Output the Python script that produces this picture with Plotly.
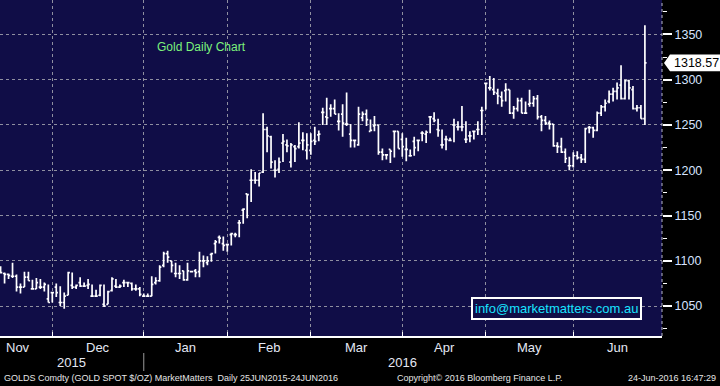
import plotly.graph_objects as go

# ---------------- data ----------------
opens = [1088, 1086, 1085, 1083, 1083, 1071, 1071, 1082, 1069, 1069, 1071, 1071, 1058, 1065, 1071,
         1054, 1054, 1062, 1073, 1071, 1076, 1072, 1073, 1061, 1061, 1062, 1052, 1052, 1067, 1072,
         1071, 1076, 1076, 1075, 1069, 1069, 1061, 1061, 1061, 1076, 1078, 1095, 1108,
         1100, 1086, 1086, 1089, 1079, 1088, 1089, 1088, 1100, 1098, 1107, 1119, 1126, 1119, 1118,
         1129, 1129, 1142, 1156, 1174, 1189, 1189, 1189, 1198, 1245, 1237, 1200, 1201, 1230, 1228,
         1209, 1226, 1226, 1233, 1222, 1222, 1233, 1239, 1264, 1259, 1268,
         1268, 1254, 1262, 1251, 1240, 1233, 1228, 1258, 1262, 1243, 1249, 1250, 1220, 1217, 1223,
         1243, 1243, 1234, 1223, 1216, 1232, 1233, 1241, 1240, 1259, 1257, 1245, 1228, 1234, 1233,
         1250, 1248, 1248, 1234, 1238, 1243, 1245, 1266, 1296, 1291, 1289, 1285,
         1281, 1288, 1289, 1263, 1268, 1277, 1263, 1273, 1274, 1279, 1259, 1255, 1252, 1251, 1227,
         1226, 1220, 1205, 1205, 1216, 1214, 1212, 1247, 1247, 1244, 1263, 1270, 1276, 1284, 1287,
         1294, 1279, 1299, 1289, 1268, 1269, 1257]
highs = [1094, 1087, 1086, 1098, 1085, 1075, 1088, 1088, 1079, 1081, 1080, 1076, 1074, 1065, 1075,
         1072, 1065, 1088, 1087, 1074, 1082, 1076, 1080, 1074, 1068, 1074, 1074, 1067, 1082, 1080,
         1074, 1079, 1077, 1076, 1074, 1071, 1064, 1064, 1083, 1082, 1095, 1110, 1111,
         1100, 1098, 1095, 1089, 1098, 1089, 1091, 1110, 1106, 1105, 1109, 1123, 1128, 1127, 1119,
         1131, 1131, 1145, 1158, 1174, 1201, 1198, 1197, 1263, 1248, 1238, 1211, 1214, 1240, 1234,
         1230, 1228, 1253, 1242, 1241, 1241, 1248, 1244, 1269, 1280, 1273,
         1278, 1263, 1273, 1286, 1251, 1233, 1270, 1265, 1267, 1256, 1260, 1250, 1224, 1217, 1223,
         1243, 1243, 1241, 1236, 1223, 1237, 1234, 1243, 1244, 1260, 1264, 1257, 1245, 1238, 1236,
         1257, 1254, 1271, 1254, 1243, 1243, 1254, 1270, 1297, 1304, 1302, 1290,
         1287, 1296, 1289, 1271, 1280, 1280, 1276, 1289, 1282, 1283, 1261, 1260, 1255, 1251, 1231,
         1236, 1224, 1215, 1220, 1221, 1218, 1247, 1249, 1248, 1265, 1272, 1278, 1288, 1291, 1297,
         1316, 1300, 1300, 1293, 1272, 1272, 1360]
lows = [1086, 1075, 1080, 1081, 1066, 1064, 1071, 1078, 1068, 1069, 1069, 1066, 1054, 1054, 1060,
        1050, 1047, 1062, 1069, 1069, 1071, 1071, 1069, 1060, 1060, 1061, 1049, 1052, 1066, 1070,
        1070, 1071, 1071, 1067, 1067, 1061, 1060, 1060, 1061, 1074, 1077, 1093, 1098,
        1087, 1082, 1080, 1078, 1078, 1087, 1082, 1082, 1093, 1095, 1099, 1108, 1119, 1111, 1110,
        1117, 1126, 1126, 1141, 1147, 1165, 1185, 1182, 1197, 1220, 1202, 1192, 1197, 1209, 1220,
        1203, 1209, 1224, 1222, 1212, 1217, 1228, 1232, 1250, 1250, 1259,
        1262, 1244, 1237, 1249, 1225, 1225, 1227, 1254, 1249, 1243, 1243, 1217, 1211, 1212, 1208,
        1214, 1224, 1215, 1210, 1215, 1216, 1221, 1232, 1230, 1241, 1253, 1237, 1224, 1222, 1232,
        1231, 1244, 1243, 1230, 1231, 1234, 1239, 1239, 1267, 1288, 1283, 1273,
        1270, 1276, 1262, 1257, 1265, 1263, 1263, 1270, 1270, 1256, 1243, 1250, 1245, 1226, 1219,
        1219, 1208, 1200, 1203, 1212, 1208, 1208, 1241, 1236, 1243, 1260, 1265, 1274, 1276, 1278,
        1278, 1278, 1278, 1267, 1265, 1257, 1250]
closes = [1087, 1085, 1084, 1083, 1071, 1071, 1082, 1078, 1069, 1076, 1071, 1074, 1054, 1065, 1065,
          1054, 1061, 1087, 1071, 1073, 1072, 1072, 1074, 1061, 1061, 1073, 1050, 1066, 1080, 1071,
          1072, 1076, 1076, 1069, 1069, 1063, 1061, 1061, 1074, 1078, 1093, 1108, 1104,
          1095, 1086, 1086, 1079, 1089, 1088, 1087, 1100, 1100, 1100, 1108, 1121, 1125, 1117, 1118,
          1130, 1129, 1142, 1157, 1173, 1189, 1189, 1197, 1245, 1238, 1209, 1200, 1209, 1232, 1227,
          1228, 1224, 1230, 1233, 1228, 1232, 1232, 1240, 1264, 1258, 1268,
          1262, 1254, 1252, 1251, 1233, 1233, 1262, 1262, 1256, 1244, 1250, 1220, 1217, 1217, 1221,
          1243, 1224, 1226, 1223, 1216, 1225, 1233, 1241, 1242, 1259, 1255, 1244, 1228, 1234, 1233,
          1250, 1248, 1248, 1234, 1238, 1243, 1245, 1266, 1296, 1291, 1286, 1282,
          1277, 1289, 1263, 1268, 1277, 1263, 1263, 1274, 1279, 1259, 1255, 1252, 1251, 1227, 1226,
          1220, 1213, 1205, 1216, 1214, 1212, 1246, 1247, 1244, 1263, 1270, 1274, 1284, 1287, 1291,
          1279, 1299, 1291, 1268, 1269, 1257, 1318.57]

month_names = ["Nov", "Dec", "Jan", "Feb", "Mar", "Apr", "May", "Jun"]
month_starts = [13, 36, 57, 78, 101, 122, 144]   # bar index of first trading day of Dec..Jun
year_names = ["2015", "2016"]
y_major = [1050, 1100, 1150, 1200, 1250, 1300, 1350]
last_price = 1318.57

title_text = "Gold Daily Chart"
info_text = "info@marketmatters.com.au"
footer_left = "GOLDS Comdty (GOLD SPOT $/OZ) MarketMatters  Daily 25JUN2015-24JUN2016"
footer_mid = "Copyright\u00a9 2016 Bloomberg Finance L.P."
footer_right = "24-Jun-2016 16:47:29"

# ---------------- layout geometry ----------------
W, H = 720, 386
PL, PR, PT, PB = 0, 662, 0, 336        # plot area in pixels
X_RANGE = [-0.15, 166.3]
Y_RANGE = [1017, 1388]
NAVY = "#100d47"
GRID = "#8f8fa0"
LABEL = "#d6e4ff"
FONT = "Liberation Sans, Arial, sans-serif"


def px_x(px):
    return (px - PL) / (PR - PL)


def px_y(py):
    return (PB - py) / (PB - PT)


n = len(closes)
xs = list(range(n))

fig = go.Figure()
fig.add_trace(go.Ohlc(
    x=xs, open=opens, high=highs, low=lows, close=closes,
    increasing=dict(line=dict(color="white", width=1.7)),
    decreasing=dict(line=dict(color="white", width=1.7)),
    tickwidth=0.42, hoverinfo="skip", showlegend=False,
))

# month label positions: middle of each month's span on the axis
bounds = [X_RANGE[0]] + month_starts + [X_RANGE[1]]
month_pos = [(bounds[k] + bounds[k + 1]) / 2 for k in range(len(month_names))]
month_pos[0] -= 2
year_bounds = [X_RANGE[0], month_starts[1], X_RANGE[1]]
year_pos = [(year_bounds[k] + year_bounds[k + 1]) / 2 for k in range(2)]

annotations = []
for name, pos in zip(month_names, month_pos):
    annotations.append(dict(x=pos, y=px_y(347), xref="x", yref="paper", text=name,
                            showarrow=False, xanchor="center", yanchor="middle",
                            font=dict(family=FONT, size=13, color="#e4e8f4")))
for name, pos in zip(year_names, year_pos):
    annotations.append(dict(x=pos, y=px_y(362), xref="x", yref="paper", text=name,
                            showarrow=False, xanchor="center", yanchor="middle",
                            font=dict(family=FONT, size=13, color="#e4e8f4")))

annotations += [
    dict(x=px_x(155), y=px_y(47), xref="paper", yref="paper", text=title_text,
         showarrow=False, xanchor="left", yanchor="middle",
         font=dict(family=FONT, size=12, color="#7cf27c")),
    dict(x=px_x(556), y=px_y(308.5), xref="paper", yref="paper", text=info_text,
         showarrow=False, xanchor="center", yanchor="middle",
         bgcolor=NAVY, bordercolor="white", borderwidth=2, borderpad=2,
         font=dict(family=FONT, size=13, color="#19e3ff")),
    dict(x=px_x(2), y=px_y(378), xref="paper", yref="paper", text=footer_left,
         showarrow=False, xanchor="left", yanchor="middle",
         font=dict(family=FONT, size=9, color="#e6e6e6")),
    dict(x=px_x(395), y=px_y(378), xref="paper", yref="paper", text=footer_mid,
         showarrow=False, xanchor="left", yanchor="middle",
         font=dict(family=FONT, size=9, color="#e6e6e6")),
    dict(x=px_x(718), y=px_y(378), xref="paper", yref="paper", text=footer_right,
         showarrow=False, xanchor="right", yanchor="middle",
         font=dict(family=FONT, size=9, color="#e6e6e6")),
]

# last price tag on the right axis
yc = (last_price - Y_RANGE[0]) / (Y_RANGE[1] - Y_RANGE[0])
hh = 8.3 / (PB - PT)
tag_path = (f"M {px_x(664)} {yc} L {px_x(670)} {yc + hh} L {px_x(720)} {yc + hh} "
            f"L {px_x(720)} {yc - hh} L {px_x(670)} {yc - hh} Z")
annotations.append(dict(x=px_x(672), y=yc, xref="paper", yref="paper",
                        text=f"{last_price:.2f}", showarrow=False,
                        xanchor="left", yanchor="middle",
                        font=dict(family=FONT, size=12.5, color="black")))

shapes = [
    dict(type="path", path=tag_path, xref="paper", yref="paper",
         fillcolor="white", line=dict(width=0)),
    dict(type="line", xref="paper", yref="paper", x0=1, x1=1, y0=0, y1=1,
         line=dict(color="#b8b8c8", width=1, dash="3px,3px")),
    dict(type="line", xref="x", yref="paper", x0=month_starts[1], x1=month_starts[1],
         y0=px_y(353), y1=px_y(371), line=dict(color="#9a9a9a", width=1)),
]

fig.update_layout(
    width=W, height=H,
    margin=dict(l=PL, r=W - PR, t=PT, b=H - PB, pad=0),
    paper_bgcolor="black", plot_bgcolor=NAVY,
    showlegend=False,
    annotations=annotations, shapes=shapes,
    xaxis=dict(
        range=X_RANGE, rangeslider=dict(visible=False),
        showgrid=False, zeroline=False,
        tickvals=[], showticklabels=False,
        showline=True, linecolor="white", linewidth=2,
        minor=dict(tickmode="array", tickvals=month_starts, ticks="inside",
                   ticklen=4, tickcolor="white", tickwidth=1,
                   showgrid=True, gridcolor=GRID, griddash="3px,3px", gridwidth=1),
    ),
    yaxis=dict(
        range=Y_RANGE, side="right",
        tickvals=y_major, ticks="outside", ticklen=9, tickwidth=2, tickcolor="white",
        showgrid=True, gridcolor=GRID, griddash="3px,3px", gridwidth=1,
        zeroline=False, showline=False,
        tickfont=dict(family=FONT, size=12.5, color=LABEL),
        minor=dict(dtick=25, tick0=1025, ticks="outside", ticklen=4,
                   tickcolor="white", tickwidth=1, showgrid=False),
    ),
)

fig.write_html(
    "out.html",
    config={"displayModeBar": False},
    post_script="document.body.style.margin='0';document.body.style.overflow='hidden';",
)
